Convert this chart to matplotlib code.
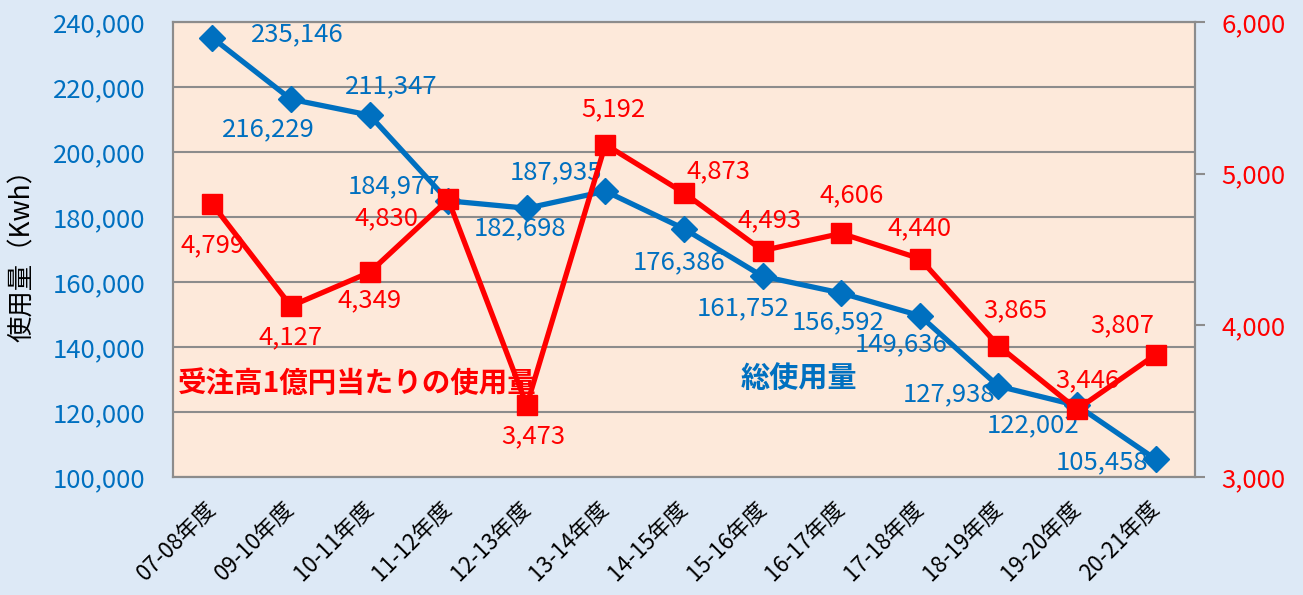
import matplotlib.pyplot as plt
from matplotlib.ticker import FuncFormatter

plt.rcParams['font.family'] = ['Noto Sans CJK JP', 'DejaVu Sans']

# データ
years = ['07-08年度', '09-10年度', '10-11年度', '11-12年度', '12-13年度', '13-14年度',
         '14-15年度', '15-16年度', '16-17年度', '17-18年度', '18-19年度', '19-20年度', '20-21年度']
total_use = [235146, 216229, 211347, 184977, 182698, 187935, 176386,
             161752, 156592, 149636, 127938, 122002, 105458]
per_order = [4799, 4127, 4349, 4830, 3473, 5192, 4873, 4493, 4606, 4440, 3865, 3446, 3807]

# ラベル位置 (px)
blue_off = [(85, 4), (-23, -30), (22, 29), (-54, 15), (-7, -20), (-49, 19), (-5, -34),
            (-19, -32), (-3, -29), (-19, -29), (-49, -8), (-44, -20), (-54, -3)]
red_off = [(0, -41), (0, -31), (0, -28), (-62, -19), (7, -31), (8, 35), (34, 22),
           (7, 30), (10, 38), (0, 30), (17, 36), (10, 29), (-33, 29)]

blue = '#0070C0'
red = '#FF0000'
grid_c = '#8C8C8C'
px = 72 / 100
fs = 18.5

fig = plt.figure(figsize=(13.03, 5.95), dpi=100, facecolor='#DDE9F6')
ax = fig.add_axes([173 / 1303, 1 - 477 / 595, (1195 - 173) / 1303, (477 - 22) / 595])
ax.set_facecolor('#FDE9DA')
x = list(range(len(years)))

ax.plot(x, total_use, color=blue, lw=3.8, marker='D', ms=13, zorder=3)
ax.set_ylim(100000, 240000)
ax.set_yticks(range(100000, 240001, 20000))
ax.yaxis.set_major_formatter(FuncFormatter(lambda v, p: f'{int(v):,}'))
ax.tick_params(axis='y', colors=blue, labelsize=fs, length=0, pad=20)
ax.set_xlim(-0.5, len(years) - 0.5)
ax.set_xticks(x)
ax.set_xticklabels(years, rotation=45, ha='right', va='center', rotation_mode='anchor', fontsize=16)
ax.tick_params(axis='x', length=0, pad=20, labelcolor='black')
ax.grid(axis='y', color=grid_c, lw=1.5)
ax.set_axisbelow(True)
for s in ax.spines.values():
    s.set_color(grid_c)
    s.set_linewidth(1.5)
ax.set_ylabel('使用量（Kwh）', fontsize=19, labelpad=12)

for i, v in enumerate(total_use):
    dx, dy = blue_off[i]
    ax.annotate(f'{v:,}', (i, v), xytext=(dx * px, dy * px), textcoords='offset points',
                ha='center', va='center', color=blue, fontsize=fs, zorder=4)

ax2 = ax.twinx()
ax2.plot(x, per_order, color=red, lw=3.8, marker='s', ms=14, zorder=3)
ax2.set_ylim(3000, 6000)
ax2.set_yticks([3000, 4000, 5000, 6000])
ax2.yaxis.set_major_formatter(FuncFormatter(lambda v, p: f'{int(v):,}'))
ax2.tick_params(axis='y', colors=grid_c, labelcolor=red, labelsize=fs, length=7, width=1.5, pad=12)
for s in ax2.spines.values():
    s.set_color(grid_c)
    s.set_linewidth(1.5)

for i, v in enumerate(per_order):
    dx, dy = red_off[i]
    ax2.annotate(f'{v:,}', (i, v), xytext=(dx * px, dy * px), textcoords='offset points',
                 ha='center', va='center', color=red, fontsize=fs, zorder=4)

ax2.text(178 / 1303, 1 - 384 / 595, '受注高1億円当たりの使用量', transform=fig.transFigure,
         color=red, fontsize=20.5, fontweight='bold', ha='left', va='center')
ax2.text(799 / 1303, 1 - 378 / 595, '総使用量', transform=fig.transFigure,
         color=blue, fontsize=21, fontweight='bold', ha='center', va='center')

fig.savefig('out.png', dpi=100, facecolor=fig.get_facecolor())
